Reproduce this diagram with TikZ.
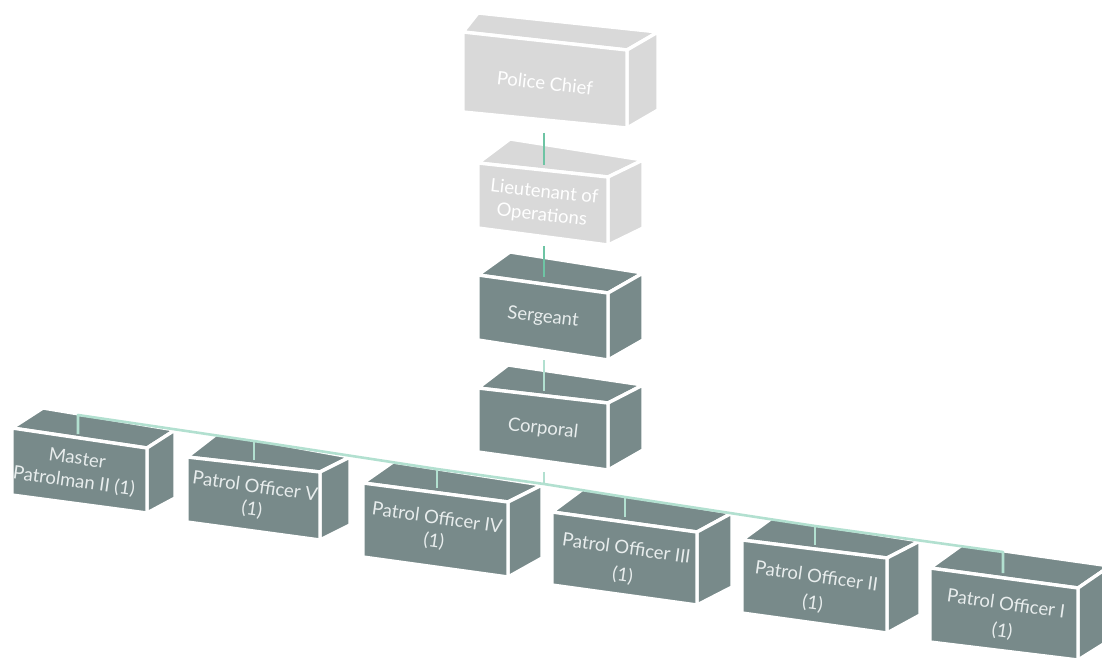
\documentclass[tikz,border=0pt]{standalone}
\usepackage{fontspec}
\setmainfont{Lato}
\usetikzlibrary{calc}
\definecolor{slate}{RGB}{120,138,138}
\definecolor{paleg}{RGB}{217,217,217}
\definecolor{txtd}{RGB}{232,237,237}
\definecolor{linka}{RGB}{110,196,164}
\definecolor{linkb}{RGB}{178,224,208}
\tikzset{
  face/.style={draw=white, line width=3.4pt, line join=round},
  lbl/.style={text=txtd, align=center, font=\fontsize{18.5}{23}\selectfont, inner sep=0pt},
  lblg/.style={lbl, text=white},
  linkA/.style={draw=linka, line width=2.6pt},
  linkB/.style={draw=linkb, line width=2.6pt},
}
% name, colour, a (front TL), b (front TR), c (front BR), d (front BL), e (back TL), f (back TR), g (back BR)
\newcommand\cuboid[9]{%
  \path[face,fill=#2] (#7) -- (#8) -- (#4) -- (#3) -- cycle;
  \path[face,fill=#2] (#4) -- (#8) -- (#9) -- (#5) -- cycle;
  \path[face,fill=#2] (#3) -- (#4) -- (#5) -- (#6) -- cycle;
  \coordinate (#1-a) at (#3);
  \coordinate (#1-c) at (#5);
}
\begin{document}
\begin{tikzpicture}[x=1pt,y=-1pt]
\useasboundingbox (0,0) rectangle (1102,663);
\clip (0,0) rectangle (1102,663);
% upper chain
\cuboid{pc}{paleg}{463,32}{627,50}{627,128}{463,112}{478,13}{658,32}{658,110}
\cuboid{lt}{paleg}{478,163}{608,177}{608,245}{478,228}{510,139}{643,160}{643,228}
\cuboid{sg}{slate}{478,275}{608,293}{608,360}{478,340}{510,252}{643,273}{643,340}
\cuboid{cp}{slate}{478,388}{608,403}{608,470}{478,452}{508,365}{643,385}{643,450}
% lower row
\cuboid{mp}{slate}{12,428}{147,448}{147,513}{12,495}{43,408}{175,430}{175,498}
\cuboid{pv}{slate}{187,457}{320,472}{320,540}{187,522}{218,433}{350,457}{350,525}
\cuboid{piv}{slate}{363,483}{508,502}{508,577}{363,557}{393,462}{542,485}{542,558}
\cuboid{piii}{slate}{552,512}{697,532}{697,605}{552,585}{583,489}{732,513}{732,587}
\cuboid{pii}{slate}{742,540}{887,558}{887,633}{742,613}{772,518}{920,541}{920,615}
\cuboid{pi}{slate}{930,568}{1078,588}{1078,660}{930,642}{962,545}{1110,566}{1110,640}
% labels
\node[lblg, rotate=-6.3] (pc) at ($(pc-a)!0.5!(pc-c)+(0,3)$) {Police Chief};
\node[lblg, rotate=-6.3] (lt) at ($(lt-a)!0.5!(lt-c)$) {Lieutenant of\\Operations};
\node[lbl, rotate=-6.8] (sg) at ($(sg-a)!0.5!(sg-c)$) {Sergeant};
\node[lbl, rotate=-6.8] (cp) at ($(cp-a)!0.5!(cp-c)$) {Corporal};
\node[lbl, rotate=-8] (mp) at ($(mp-a)!0.5!(mp-c)+(-4,0)$) {Master\\Patrolman II (1)};
\node[lbl, rotate=-8] (pv) at ($(pv-a)!0.5!(pv-c)$) {Patrol Officer V\\(1)};
\node[lbl, rotate=-8] (piv) at ($(piv-a)!0.5!(piv-c)$) {Patrol Officer IV\\(1)};
\node[lbl, rotate=-8] (piii) at ($(piii-a)!0.5!(piii-c)+(0,4)$) {Patrol Officer III\\[4pt](1)};
\node[lbl, rotate=-8] (pii) at ($(pii-a)!0.5!(pii-c)+(0,4)$) {Patrol Officer II\\[4pt](1)};
\node[lbl, rotate=-8] (pi) at ($(pi-a)!0.5!(pi-c)+(0,4)$) {Patrol Officer I\\[4pt](1)};
% connector anchors
\coordinate (pc-bot) at (544,133);
\coordinate (lt-top) at (544,165);
\coordinate (lt-bot) at (544,246);
\coordinate (sg-top) at (544,277);
\coordinate (sg-bot) at (544,360);
\coordinate (cp-top) at (544,391);
\coordinate (cp-bot) at (544,472);
\coordinate (cp-up) at (544,484);
\coordinate (mp-up) at (78,415);
\coordinate (mp-top) at (78,434);
\coordinate (pv-up) at (254,441);
\coordinate (pv-top) at (254,460);
\coordinate (piv-up) at (437,469);
\coordinate (piv-top) at (437,488);
\coordinate (piii-up) at (625,497);
\coordinate (piii-top) at (625,517);
\coordinate (pii-up) at (815,526);
\coordinate (pii-top) at (815,545);
\coordinate (pi-up) at (1003,552);
\coordinate (pi-top) at (1003,573);
% connectors
\draw[linkA] (pc-bot) -- (lt-top);
\draw[linkA] (lt-bot) -- (sg-top);
\draw[linkB] (sg-bot) -- (cp-top);
\draw[linkB] (cp-bot) -- (cp-up);
\draw[linkB, line join=round] (mp-top) -- (mp-up) -- (pv-up) -- (piv-up) -- (cp-up) -- (piii-up) -- (pii-up) -- (pi-up) -- (pi-top);
\draw[linkB] (pv-up) -- (pv-top);
\draw[linkB] (piv-up) -- (piv-top);
\draw[linkB] (piii-up) -- (piii-top);
\draw[linkB] (pii-up) -- (pii-top);
\end{tikzpicture}
\end{document}
